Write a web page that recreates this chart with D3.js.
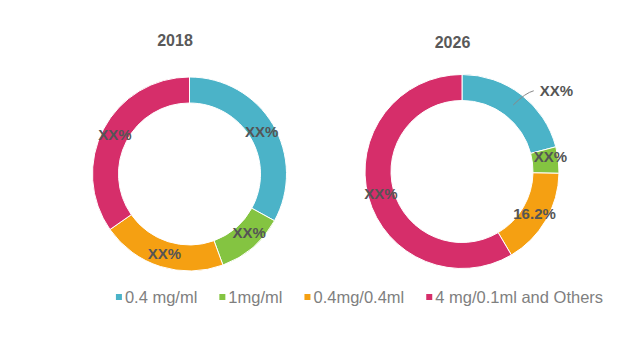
<!DOCTYPE html>
<html>
<head>
<meta charset="utf-8">
<script src="https://cdn.jsdelivr.net/npm/d3@7"></script>
<style>
  html, body { margin: 0; padding: 0; background: #ffffff; }
  svg { display: block; font-family: "Liberation Sans", Arial, sans-serif; }
</style>
</head>
<body>
<svg id="chart" width="640" height="360"></svg>
<script>
// ---- data ----
const categories = ["0.4 mg/ml", "1mg/ml", "0.4mg/0.4ml", "4 mg/0.1ml and Others"];
const years = ["2018", "2026"];
const values2018 = [33.0, 11.4, 20.9, 34.7];
const values2026 = [20.9, 4.4, 16.2, 58.5];
const labels2018 = ["XX%", "XX%", "XX%", "XX%"];
const labels2026 = ["XX%", "XX%", "16.2%", "XX%"];
const colors = ["#4bb3c8", "#84c441", "#f5a012", "#d62e6a"];

const svg = d3.select("#chart");
const color = d3.scaleOrdinal().domain(categories).range(colors);

const charts = [
  { year: years[0], values: values2018, labels: labels2018, cx: 189.5, cy: 174, tx: 175, ty: 46, outside: [] },
  { year: years[1], values: values2026, labels: labels2026, cx: 462, cy: 171.5, tx: 452.5, ty: 48, outside: [0] }
];

const outerR = 97, innerR = 71;
const pie = d3.pie().sort(null).value(d => d.v);
const arc = d3.arc().innerRadius(innerR).outerRadius(outerR);

charts.forEach(c => {
  const data = categories.map((k, i) => ({ k, v: c.values[i], label: c.labels[i], i }));
  const arcs = pie(data);

  svg.append("text")
    .attr("x", c.tx).attr("y", c.ty)
    .attr("text-anchor", "middle")
    .attr("font-size", 16).attr("font-weight", "bold")
    .attr("fill", "#595959")
    .text(c.year);

  const g = svg.append("g").attr("transform", `translate(${c.cx},${c.cy})`);
  g.selectAll("path.slice").data(arcs).join("path")
    .attr("class", "slice")
    .attr("d", arc)
    .attr("fill", d => color(d.data.k))
    .attr("stroke", "#ffffff")
    .attr("stroke-width", 1);

  arcs.forEach(d => {
    const [x0, y0] = arc.centroid(d);
    const small = (d.endAngle - d.startAngle) < 0.8;
    if (c.outside.includes(d.data.i)) {
      const mid = (d.startAngle + d.endAngle) / 2 + 0.07;
      const r2 = 108;
      const x1 = r2 * Math.sin(mid), y1 = -r2 * Math.cos(mid);
      g.append("path")
        .attr("d", `M${x0},${y0} Q${(x0 + x1) / 2 + 2},${y1 + 2} ${x1},${y1}`)
        .attr("fill", "none").attr("stroke", "#888").attr("stroke-width", 1);
      g.append("text")
        .attr("x", x1 + 6).attr("y", y1)
        .attr("dy", "0.35em")
        .attr("font-size", 15).attr("font-weight", "bold")
        .attr("fill", "#555555")
        .text(d.data.label);
    } else {
      g.append("text")
        .attr("x", x0 + (small ? 5 : 0)).attr("y", y0 + (small ? -5 : 0))
        .attr("dy", "0.35em")
        .attr("text-anchor", "middle")
        .attr("font-size", 15).attr("font-weight", "bold")
        .attr("fill", "#555555")
        .text(d.data.label);
    }
  });
});

// ---- legend ----
const legend = svg.append("g");
const items = legend.selectAll("g.item").data(categories).join("g").attr("class", "item");
items.append("rect")
  .attr("width", 6).attr("height", 6)
  .attr("y", -9)
  .attr("fill", d => color(d));
items.append("text")
  .attr("x", 9).attr("y", 0)
  .attr("font-size", 16.5)
  .attr("fill", "#7f7f7f")
  .text(d => d);

let xPos = 0;
const gap = 22;
items.each(function () {
  d3.select(this).attr("transform", `translate(${xPos},0)`);
  const w = 9 + d3.select(this).select("text").node().getComputedTextLength();
  xPos += w + gap;
});
const totalW = xPos - gap;
legend.attr("transform", `translate(${359.5 - totalW / 2},303)`);
</script>
</body>
</html>
